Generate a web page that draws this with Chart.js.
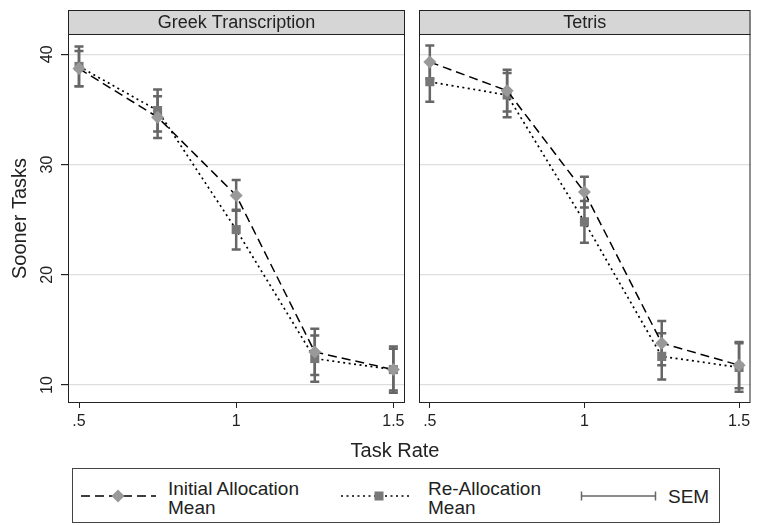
<!DOCTYPE html>
<html>
<head>
<meta charset="utf-8">
<script src="https://cdn.jsdelivr.net/npm/chart.js@4/dist/chart.umd.min.js"></script>
<style>
  body { margin: 0; background: #fff; font-family: "Liberation Sans", Arial, sans-serif; }
  #wrap { position: relative; width: 757px; height: 525px; overflow: hidden; }
  .panel { position: absolute; top: 0; }
  #left { left: 0; width: 412px; height: 440px; }
  #right { left: 410px; width: 347px; height: 440px; }
  #xtitle { position: absolute; left: 295px; width: 200px; top: 439px; text-align: center; font-size: 20px; color: #222; }
  #legend { position: absolute; left: 72px; top: 468px; width: 648px; height: 55px; border: 1px solid #444; box-sizing: border-box; }
  .ltext { position: absolute; font-size: 19px; line-height: 19px; color: #222; }
  svg { position: absolute; left: 0; top: 0; }
</style>
</head>
<body>
<div id="wrap">
  <div class="panel" id="left"><canvas id="c1"></canvas></div>
  <div class="panel" id="right"><canvas id="c2"></canvas></div>
  <div id="xtitle">Task Rate</div>
  <div id="legend">
    <svg width="648" height="55">
      <line x1="8" y1="27" x2="83" y2="27" stroke="#000" stroke-width="1.5" stroke-dasharray="9,5"/>
      <polygon points="45,20.5 51.5,27 45,33.5 38.5,27" fill="#999"/>
      <line x1="268" y1="27" x2="339" y2="27" stroke="#000" stroke-width="1.6" stroke-dasharray="2,3.5"/>
      <rect x="301.5" y="22.5" width="9" height="9" fill="#777"/>
      <line x1="508" y1="27" x2="583" y2="27" stroke="#666" stroke-width="1.5"/>
      <line x1="508.5" y1="22.5" x2="508.5" y2="31.5" stroke="#666" stroke-width="1.5"/>
      <line x1="582.5" y1="22.5" x2="582.5" y2="31.5" stroke="#666" stroke-width="1.5"/>
    </svg>
    <div class="ltext" style="left:95px; top:10px;">Initial Allocation<br>Mean</div>
    <div class="ltext" style="left:355px; top:10px;">Re-Allocation<br>Mean</div>
    <div class="ltext" style="left:595px; top:18px;">SEM</div>
  </div>
</div>
<script>
const taskRates = [0.5, 0.75, 1, 1.25, 1.5];
const xTickValues = [0.5, 1, 1.5];
const xTickLabels = ['.5', '1', '1.5'];
const yTickValues = [10, 20, 30, 40];

const panelTitles = ['Greek Transcription', 'Tetris'];

const greekInitial = [38.7, 34.3, 27.2, 13.0, 11.4];
const greekInitialSem = [1.6, 1.9, 1.4, 2.1, 2.1];
const greekRealloc = [38.9, 34.9, 24.1, 12.4, 11.4];
const greekReallocSem = [1.8, 1.9, 1.8, 2.1, 1.9];

const tetrisInitial = [39.3, 36.7, 27.5, 13.8, 11.8];
const tetrisInitialSem = [1.5, 1.9, 1.4, 2.0, 2.1];
const tetrisRealloc = [37.5, 36.3, 24.8, 12.6, 11.6];
const tetrisReallocSem = [1.8, 2.0, 1.9, 2.1, 2.2];

const FONT = '"Liberation Sans", Arial, sans-serif';

// header strip, frame and error bars
const panelPlugin = {
  id: 'panel',
  beforeDatasetsDraw(chart) {
    const ctx = chart.ctx;
    const xs = chart.scales.x, ys = chart.scales.y;
    ctx.save();
    ctx.strokeStyle = '#666';
    ctx.lineWidth = 2.5;
    chart.data.datasets.forEach(ds => {
      ds.data.forEach((p, i) => {
        const x = xs.getPixelForValue(p.x);
        const yt = ys.getPixelForValue(p.y + ds.sem[i]);
        const yb = ys.getPixelForValue(p.y - ds.sem[i]);
        ctx.beginPath();
        ctx.moveTo(x, yt); ctx.lineTo(x, yb);
        ctx.moveTo(x - 4.5, yt); ctx.lineTo(x + 4.5, yt);
        ctx.moveTo(x - 4.5, yb); ctx.lineTo(x + 4.5, yb);
        ctx.stroke();
      });
    });
    ctx.restore();
  },
  afterDraw(chart, args, opts) {
    const ctx = chart.ctx;
    const a = chart.chartArea;
    ctx.save();
    // header
    ctx.fillStyle = '#d6d6d6';
    ctx.fillRect(a.left, 10, a.right - a.left, a.top - 10);
    ctx.strokeStyle = '#222';
    ctx.lineWidth = 1;
    ctx.strokeRect(a.left + 0.5, 10.5, a.right - a.left - 1, a.top - 10);
    ctx.fillStyle = '#222';
    ctx.font = '18px ' + FONT;
    ctx.textAlign = 'center';
    ctx.textBaseline = 'middle';
    ctx.fillText(opts.title, (a.left + a.right) / 2, (10 + a.top) / 2 + 1);
    // frame
    ctx.strokeRect(a.left + 0.5, a.top + 0.5, a.right - a.left - 1, a.bottom - a.top - 1);
    // rotated y tick labels
    if (opts.yLabels) {
      const ys = chart.scales.y;
      ctx.font = '16px ' + FONT;
      ys.ticks.forEach(t => {
        const y = ys.getPixelForValue(t.value);
        ctx.save();
        ctx.translate(48, y);
        ctx.rotate(-Math.PI / 2);
        ctx.fillText(String(t.value), 0, 0);
        ctx.restore();
      });
    }
    ctx.restore();
  }
};

function makePanel(id, title, initial, initialSem, realloc, reallocSem, showY) {
  const pts = vals => taskRates.map((x, i) => ({ x: x, y: vals[i] }));
  new Chart(document.getElementById(id), {
    type: 'line',
    data: {
      datasets: [{
        label: 'Initial Allocation Mean',
        data: pts(initial),
        sem: initialSem,
        borderColor: '#000',
        borderWidth: 1.5,
        borderDash: [9, 5],
        pointStyle: 'rectRot',
        pointRadius: 6.5,
        pointBackgroundColor: '#999',
        pointBorderWidth: 0,
        tension: 0
      }, {
        label: 'Re-Allocation Mean',
        data: pts(realloc),
        sem: reallocSem,
        borderColor: '#000',
        borderWidth: 1.7,
        borderDash: [2, 3.5],
        pointStyle: 'rect',
        pointRadius: 6.4,
        pointBackgroundColor: '#777',
        pointBorderWidth: 0,
        tension: 0
      }]
    },
    options: {
      responsive: true,
      maintainAspectRatio: false,
      animation: false,
      layout: { padding: { top: 34, right: showY ? 7 : 2, left: 0, bottom: 0 } },
      plugins: {
        legend: { display: false },
        tooltip: { enabled: false },
        panel: { title: title, yLabels: showY }
      },
      scales: {
        x: {
          type: 'linear',
          min: 0.465,
          max: 1.537,
          afterFit: s => { s.height = 37; },
          afterBuildTicks: s => { s.ticks = xTickValues.map(v => ({ value: v })); },
          ticks: {
            padding: 4,
            color: '#222',
            font: { family: FONT, size: 16 },
            maxRotation: 0,
            callback: v => xTickLabels[xTickValues.indexOf(v)]
          },
          grid: { drawOnChartArea: false, drawTicks: true, tickLength: 5, color: '#222' },
          border: { display: false }
        },
        y: {
          min: 8.37,
          max: 41.84,
          afterFit: s => { s.width = showY ? 68 : 9; },
          afterBuildTicks: s => { s.ticks = yTickValues.map(v => ({ value: v })); },
          ticks: { display: false },
          grid: {
            color: '#dedede',
            lineWidth: 1.2,
            drawTicks: showY,
            tickLength: 7,
            tickColor: '#222'
          },
          border: { display: false },
          title: {
            display: showY,
            text: 'Sooner Tasks',
            color: '#222',
            font: { family: FONT, size: 20 },
            padding: { top: 8, bottom: 0 }
          }
        }
      }
    },
    plugins: [panelPlugin]
  });
}

makePanel('c1', panelTitles[0], greekInitial, greekInitialSem, greekRealloc, greekReallocSem, true);
makePanel('c2', panelTitles[1], tetrisInitial, tetrisInitialSem, tetrisRealloc, tetrisReallocSem, false);
</script>
</body>
</html>
